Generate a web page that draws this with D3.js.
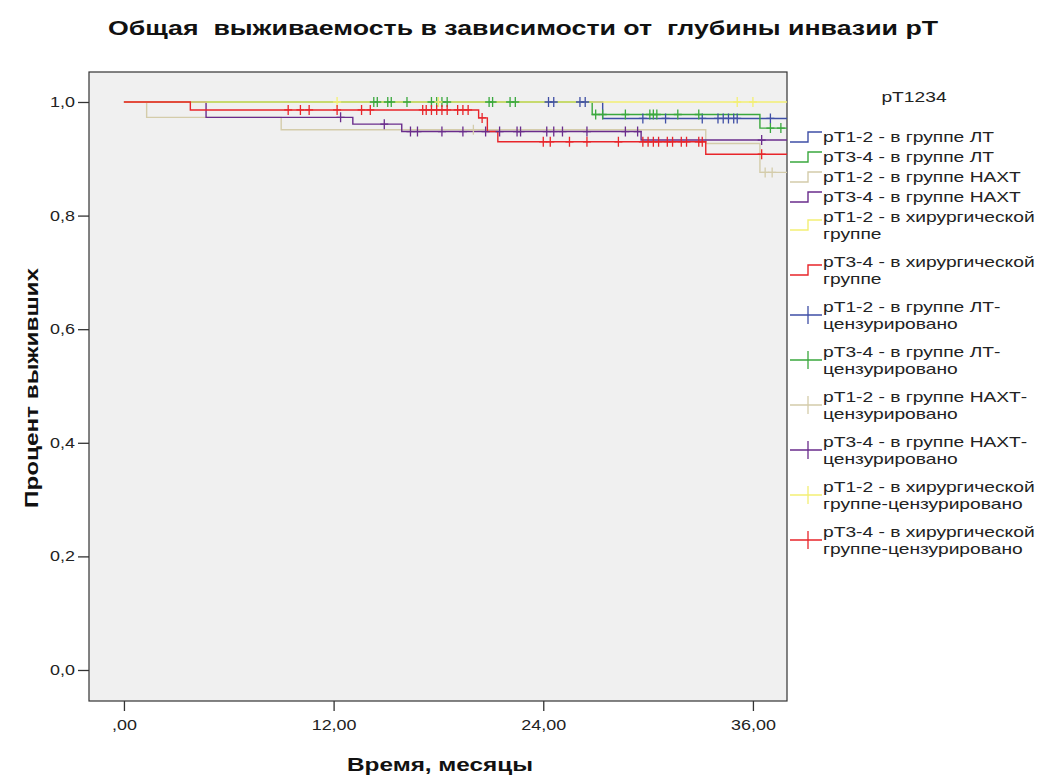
<!DOCTYPE html>
<html><head><meta charset="utf-8">
<script src="https://cdn.jsdelivr.net/npm/d3@7"></script>
<style>body{margin:0;background:#fff}svg{display:block;font-family:"Liberation Sans",Arial,sans-serif}</style>
</head><body><svg id="c" width="1048" height="780"></svg>
<script>
// ---------- DATA ----------
const chartTitle = "Общая  выживаемость в зависимости от  глубины инвазии pT";
const xTitle = "Время, месяцы";
const yTitle = "Процент выживших";
const legendTitle = "pT1234";
const xTicks = [0, 12, 24, 36];
const xTickLabels = [",00", "12,00", "24,00", "36,00"];
const yTicks = [0, 0.2, 0.4, 0.6, 0.8, 1.0];
const yTickLabels = ["0,0", "0,2", "0,4", "0,6", "0,8", "1,0"];
const groupNames = ["pT1-2 - в группе ЛТ", "pT3-4 - в группе ЛТ", "pT1-2 - в группе НАХТ",
  "pT3-4 - в группе НАХТ", "pT1-2 - в хирургической группе", "pT3-4 - в хирургической группе"];
// Kaplan-Meier steps: [time (months), survival after event]
const stepsT12LT = [[27.4, 0.971]];
const stepsT34LT = [[26.8, 0.978], [36.4, 0.954]];
const stepsT12NACT = [[1.3, 0.973], [9.0, 0.951], [33.3, 0.927], [36.4, 0.876]];
const stepsT34NACT = [[4.7, 0.973], [13.1, 0.961], [15.9, 0.948], [29.6, 0.933]];
const stepsT12Surg = [];
const stepsT34Surg = [[3.8, 0.986], [20.3, 0.972], [20.8, 0.948], [21.4, 0.930], [33.3, 0.908]];
// censored times (months)
const censT12LT = [24.3, 24.6, 26.1, 26.4, 29.7, 31.0, 33.1, 34.0, 34.3, 34.6, 34.9, 35.1, 37.0];
const censT34LT = [14.3, 14.5, 15.1, 15.3, 16.2, 17.6, 17.9, 18.2, 18.5, 20.9, 21.1, 22.1, 22.4,
  27.0, 27.4, 28.7, 30.1, 30.3, 30.5, 31.7, 32.9, 37.0, 37.6];
const censT12NACT = [20.0, 36.7, 37.1];
const censT34NACT = [12.4, 14.9, 16.4, 16.8, 18.2, 19.4, 20.7, 21.5, 22.5, 22.7, 24.2, 24.6, 25.1,
  26.5, 28.7, 29.4, 36.5];
const censT12Surg = [12.2, 18.0, 35.1, 36.0];
const censT34Surg = [9.4, 10.1, 10.6, 12.2, 13.6, 14.1, 17.1, 17.3, 17.6, 17.9, 18.2, 18.5, 19.1, 19.4, 19.7,
  20.5, 24.0, 24.4, 25.5, 26.5, 28.3, 29.7, 30.0, 30.3, 30.6, 31.1, 31.4, 31.9, 32.2, 32.9, 33.1, 36.5];
const legendLabels = [
  ["pT1-2 - в группе ЛТ"], ["pT3-4 - в группе ЛТ"], ["pT1-2 - в группе НАХТ"], ["pT3-4 - в группе НАХТ"],
  ["pT1-2 - в хирургической", "группе"], ["pT3-4 - в хирургической", "группе"],
  ["pT1-2 - в группе ЛТ-", "цензурировано"], ["pT3-4 - в группе ЛТ-", "цензурировано"],
  ["pT1-2 - в группе НАХТ-", "цензурировано"], ["pT3-4 - в группе НАХТ-", "цензурировано"],
  ["pT1-2 - в хирургической", "группе-цензурировано"], ["pT3-4 - в хирургической", "группе-цензурировано"]
];
const colors = ["#3f4fa6", "#3aa83e", "#d4ccaa", "#6a2c8c", "#f3ef74", "#e8252a"];

// ---------- LAYOUT ----------
const svg = d3.select("#c");
const L = 89, R = 787, T = 72, B = 701;
const x = d3.scaleLinear().domain([-2, 37.95]).range([L, R]);
const y = d3.scaleLinear().domain([-0.0546, 1.0528]).range([B, T]);
const SX = 1.28;
function stretch(sel, f) { sel.each(function () { const w = this.getComputedTextLength(); d3.select(this).attr("textLength", w * f).attr("lengthAdjust", "spacingAndGlyphs"); }); }

svg.append("rect").attr("x", L).attr("y", T).attr("width", R - L).attr("height", B - T)
  .attr("fill", "#f0f0f0").attr("stroke", "#333").attr("stroke-width", 1.2);

// axes
const xa = svg.append("g").attr("transform", `translate(0,${B})`)
  .call(d3.axisBottom(x).tickValues(xTicks).tickFormat((d, i) => xTickLabels[i]).tickSize(10).tickPadding(9));
const ya = svg.append("g").attr("transform", `translate(${L},0)`)
  .call(d3.axisLeft(y).tickValues(yTicks).tickFormat((d, i) => yTickLabels[i]).tickSize(11).tickPadding(3));
[xa, ya].forEach(a => {
  a.select(".domain").remove();
  a.selectAll(".tick line").attr("stroke", "#333").attr("stroke-width", 1.3);
  a.selectAll(".tick text").attr("font-size", 14).attr("font-family", "Liberation Sans, Arial").attr("fill", "#222");
  stretch(a.selectAll(".tick text"), SX);
});

// curves
const allSteps = [stepsT12LT, stepsT34LT, stepsT12NACT, stepsT34NACT, stepsT12Surg, stepsT34Surg];
const allCens = [censT12LT, censT34LT, censT12NACT, censT34NACT, censT12Surg, censT34Surg];
const tEnd = x.domain()[1];
svg.append("clipPath").attr("id", "clip").append("rect").attr("x", L).attr("y", T).attr("width", R - L).attr("height", B - T);
const plot = svg.append("g").attr("clip-path", "url(#clip)");
const line = d3.line().x(d => x(d[0])).y(d => y(d[1])).curve(d3.curveStepAfter);
function survAt(steps, t) { let s = 1; steps.forEach(d => { if (d[0] <= t) s = d[1]; }); return s; }
allSteps.forEach((st, i) => {
  const pts = [[0, 1]].concat(st).concat([[tEnd, st.length ? st[st.length - 1][1] : 1]]);
  plot.append("path").attr("d", line(pts)).attr("fill", "none").attr("stroke", colors[i]).attr("stroke-width", 1.4);
});
allCens.forEach((cs, i) => {
  plot.append("g").selectAll("path").data(cs).join("path")
    .attr("d", t => { const px = x(t), py = y(survAt(allSteps[i], t)); return `M${px},${py - 5}V${py + 5}M${px - 4},${py}H${px + 4}`; })
    .attr("stroke", colors[i]).attr("stroke-width", 1.3).attr("fill", "none");
});

// titles
const tt = svg.append("text").attr("x", 523).attr("y", 35).attr("text-anchor", "middle")
  .attr("font-size", 21).attr("font-weight", "bold").attr("fill", "#111")
  .style("white-space", "pre").attr("xml:space", "preserve").text(chartTitle);
tt.attr("textLength", 830).attr("lengthAdjust", "spacingAndGlyphs");
const xt = svg.append("text").attr("x", 440).attr("y", 771).attr("text-anchor", "middle")
  .attr("font-size", 19).attr("font-weight", "bold").attr("fill", "#111").text(xTitle);
stretch(xt, SX);
const yt = svg.append("text").attr("transform", "translate(38,388) rotate(-90)").attr("text-anchor", "middle")
  .attr("font-size", 19).attr("font-weight", "bold").attr("fill", "#111").text(yTitle);
yt.attr("textLength", 240).attr("lengthAdjust", "spacingAndGlyphs");

// legend
const lg = svg.append("g").attr("font-size", 15).attr("fill", "#222");
const lt = lg.append("text").attr("x", 914).attr("y", 97).attr("dy", "0.35em").attr("text-anchor", "middle").text(legendTitle);
stretch(lt, SX);
let ly = 137;
legendLabels.forEach((lines, i) => {
  const c = colors[i % 6];
  const cy = lines.length === 1 ? ly : ly + 8;
  if (i < 6) {
    lg.append("path").attr("d", `M790,${cy + 5}H808V${cy - 5}H822`).attr("fill", "none").attr("stroke", c).attr("stroke-width", 1.4);
  } else {
    lg.append("path").attr("d", `M790,${cy}H822M808,${cy - 9}V${cy + 9}`).attr("fill", "none").attr("stroke", c).attr("stroke-width", 1.3);
  }
  lines.forEach((s, j) => {
    const t = lg.append("text").attr("x", 823).attr("y", ly + j * 17).attr("dy", "0.35em").text(s);
    stretch(t, SX);
  });
  ly += lines.length === 1 ? 20 : 45;
});
</script></body></html>
